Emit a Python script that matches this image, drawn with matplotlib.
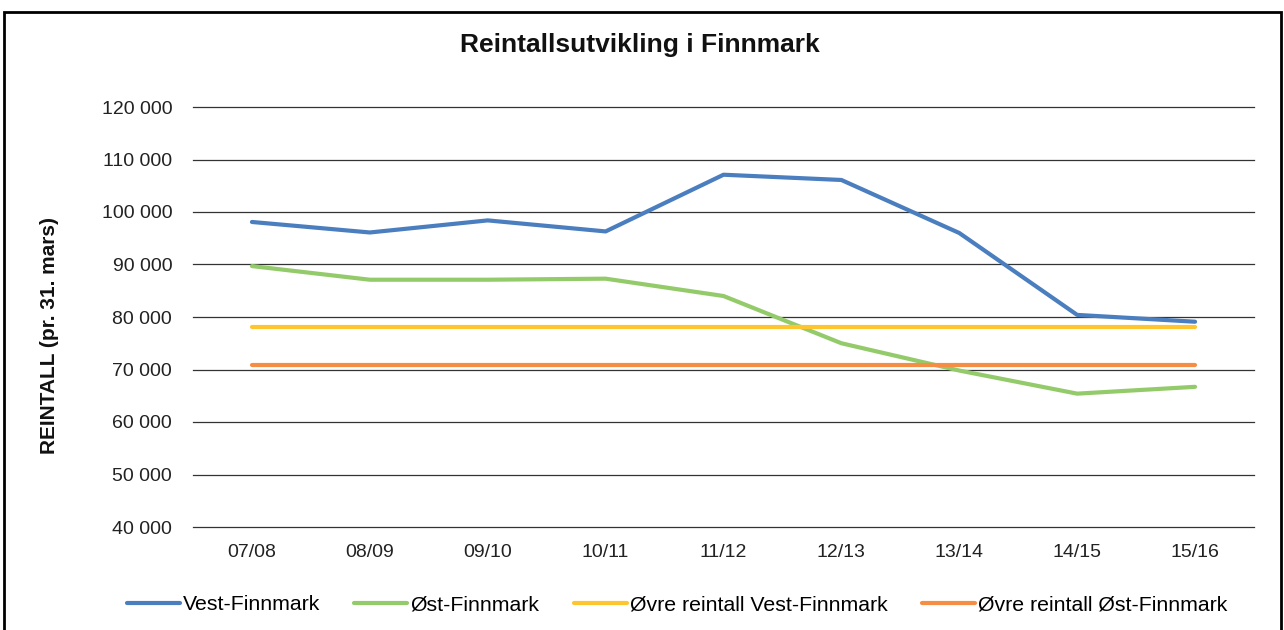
import matplotlib
matplotlib.use('Agg')
import matplotlib.pyplot as plt
from matplotlib.patches import Rectangle
from matplotlib.ticker import FuncFormatter

plt.rcParams['font.family'] = ['Liberation Sans', 'DejaVu Sans']

seasons = ['07/08', '08/09', '09/10', '10/11', '11/12', '12/13', '13/14', '14/15', '15/16']
vest = [98100, 96100, 98400, 96300, 107100, 106100, 96000, 80400, 79100]
ost = [89700, 87100, 87100, 87300, 84000, 75000, 69800, 65400, 66700]
ovre_vest = [78100] * len(seasons)
ovre_ost = [70800] * len(seasons)

series = [
    ('Vest-Finnmark', vest, '#4A7EBF'),
    ('Øst-Finnmark', ost, '#94CB6A'),
    ('Øvre reintall Vest-Finnmark', ovre_vest, '#FEC52E'),
    ('Øvre reintall Øst-Finnmark', ovre_ost, '#F68D45'),
]

W, H = 1284, 630
fig = plt.figure(figsize=(W / 100, H / 100), dpi=100)
ax = fig.add_axes([193 / W, 1 - 527 / H, 1061 / W, 420 / H])

x = list(range(len(seasons)))
for name, vals, color in series:
    ax.plot(x, vals, color=color, lw=3, label=name, solid_capstyle='round', zorder=3)

ax.set_xlim(-0.5, len(seasons) - 0.5)
ax.set_ylim(40000, 120000)
ax.set_yticks(range(40000, 120001, 10000))
ax.yaxis.set_major_formatter(FuncFormatter(lambda v, p: f'{int(v):,}'.replace(',', ' ')))
ax.set_xticks(x)
ax.set_xticklabels(seasons)
ax.tick_params(axis='both', length=0, labelsize=14, colors='#222222')
ax.tick_params(axis='y', pad=15)
ax.tick_params(axis='x', pad=12)
ax.grid(axis='y', color='#333333', lw=0.9, zorder=1)
for gl in ax.get_ygridlines():
    gl.set_clip_on(False)
for s in ax.spines.values():
    s.set_visible(False)

fig.text(640 / W, 1 - 45 / H, 'Reintallsutvikling i Finnmark', ha='center', va='center',
         fontsize=19, fontweight='bold', color='#111111')
fig.text(50 / W, 1 - 335 / H, 'REINTALL (pr. 31. mars)', rotation=90, ha='center', va='center',
         fontsize=15, fontweight='bold', color='#111111')

fig.legend(loc='center', bbox_to_anchor=(677 / W, 1 - 605 / H), ncol=4, frameon=False,
           fontsize=15.3, handlelength=2.5, handletextpad=0.15, columnspacing=1.6)

fig.patches.append(Rectangle((4 / W, -0.05), 1277 / W, 1.05 - 12 / H, transform=fig.transFigure,
                             fill=False, edgecolor='black', lw=2))

fig.savefig('out.png', dpi=100)
